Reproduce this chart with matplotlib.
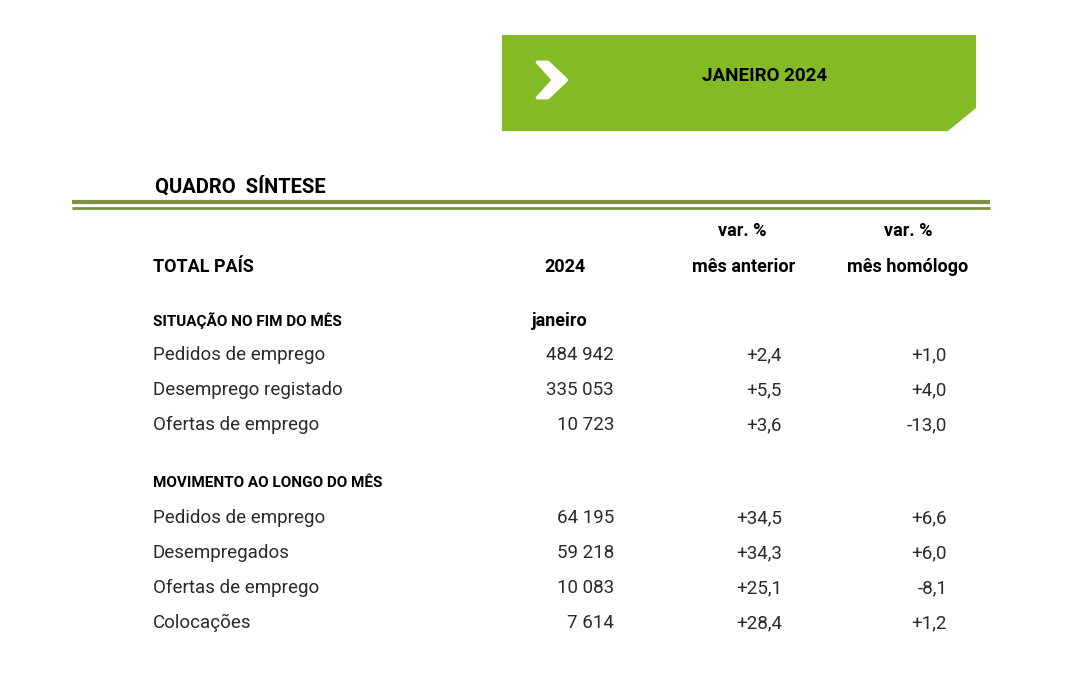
import matplotlib.pyplot as plt
from matplotlib.patches import Polygon

# table data
month_title = "JANEIRO 2024"
section_1 = "SITUAÇÃO NO FIM DO MÊS"
section_2 = "MOVIMENTO AO LONGO DO MÊS"
rows_1 = ["Pedidos de emprego", "Desemprego registado", "Ofertas de emprego"]
values_1 = ["484 942", "335 053", "10 723"]
var_prev_1 = ["+2,4", "+5,5", "+3,6"]
var_year_1 = ["+1,0", "+4,0", "-13,0"]
rows_2 = ["Pedidos de emprego", "Desempregados", "Ofertas de emprego", "Colocações"]
values_2 = ["64 195", "59 218", "10 083", "7 614"]
var_prev_2 = ["+34,5", "+34,3", "+25,1", "+28,4"]
var_year_2 = ["+6,6", "+6,0", "-8,1", "+1,2"]

plt.rcParams["font.family"] = "Roboto"
fig = plt.figure(figsize=(10.92, 6.73), dpi=100)
ax = fig.add_axes([0, 0, 1, 1])
ax.set_xlim(0, 1092)
ax.set_ylim(673, 0)
ax.axis("off")

# green banner with cut corner
green = "#84bb25"
ax.add_patch(Polygon([(502, 35), (976, 35), (976, 108), (948, 131), (502, 131)],
                     closed=True, facecolor=green, edgecolor="none"))
ax.add_patch(Polygon([(537, 62), (548, 62), (567, 80), (548, 98), (537, 98), (553, 80)],
                     closed=True, facecolor="white", edgecolor="white", lw=2, joinstyle="round"))
ax.text(765, 76, month_title, ha="center", va="center", fontsize=13.5, fontweight="bold")

ax.text(155, 186, "QUADRO  SÍNTESE", ha="left", va="center", fontsize=14.5, fontweight="bold")
line_c = "#7a9140"
ax.plot([72, 990], [202, 202], color=line_c, lw=3, solid_capstyle="butt")
ax.plot([72, 990], [207.5, 207.5], color=line_c, lw=2, solid_capstyle="butt")

bold = dict(fontsize=13, fontweight="bold", va="center")
ax.text(153, 267, "TOTAL PAÍS", ha="left", **bold)
ax.text(565, 267, "2024", ha="center", **bold)
ax.text(742, 231, "var. %", ha="center", **bold)
ax.text(744, 267, "mês anterior", ha="center", **bold)
ax.text(908, 231, "var. %", ha="center", **bold)
ax.text(908, 267, "mês homólogo", ha="center", **bold)

sec = dict(fontsize=11, fontweight="bold", va="center", ha="left")
ax.text(153, 321, section_1, **sec)
ax.text(532, 321, "janeiro", ha="left", va="center", fontsize=13, fontweight="bold")
ax.text(153, 483, section_2, **sec)

def draw_rows(y0, labels, vals, vp, vy):
    for i, (lab, v, p, h) in enumerate(zip(labels, vals, vp, vy)):
        y = y0 + i * 35
        kw = dict(fontsize=13.5, va="center", color="#2a2a2a")
        ax.text(153, y, lab, ha="left", **kw)
        ax.text(614, y, v, ha="right", **kw)
        ax.text(782, y, p, ha="right", **kw)
        ax.text(947, y, h, ha="right", **kw)

draw_rows(355, rows_1, values_1, var_prev_1, var_year_1)
draw_rows(518, rows_2, values_2, var_prev_2, var_year_2)

fig.savefig("out.png", dpi=100)
